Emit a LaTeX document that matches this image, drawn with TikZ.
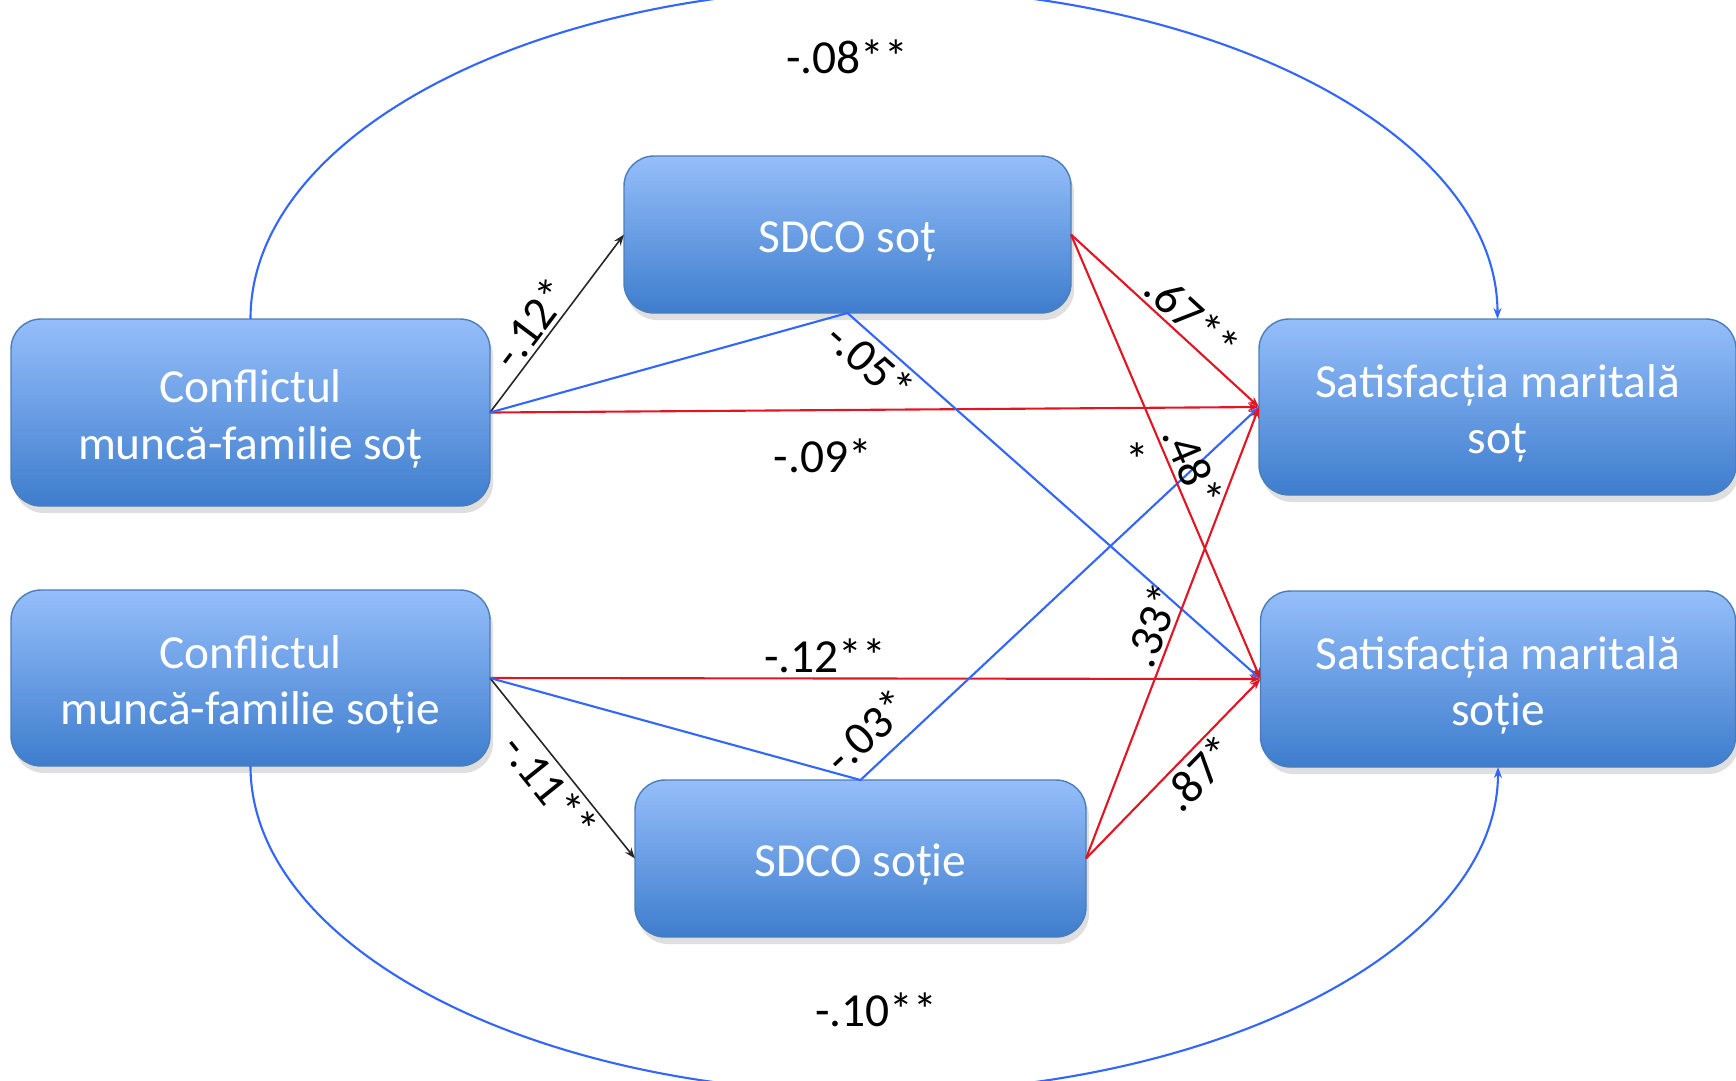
\documentclass[tikz,border=0pt]{standalone}
\usepackage{fontspec}
\setmainfont{Carlito}
\usetikzlibrary{arrows.meta,shadows,positioning}

\definecolor{boxtop}{RGB}{149,190,250}
\definecolor{boxbot}{RGB}{62,125,205}
\definecolor{boxline}{RGB}{74,126,187}
\definecolor{linkblue}{RGB}{51,102,255}
\definecolor{linkred}{RGB}{226,22,34}

\begin{document}
\begin{tikzpicture}[x=0.1mm,y=-0.1mm,
            box/.style={rectangle,rounded corners=3mm,draw=boxline,line width=0.4pt,top color=boxtop,bottom color=boxbot,text=white,align=center,font=\fontsize{13.5}{16}\selectfont,inner sep=0pt,outer sep=0pt,drop shadow={shadow xshift=0.3mm,shadow yshift=-0.7mm,opacity=0.25}},
            oneline/.style={box,text height=4.2mm,text depth=0.7mm},
            twoline/.style={box,text height=10mm,text depth=0.7mm},
            lbl/.style={font=\fontsize{13.5}{15}\selectfont,inner sep=1pt},
            bl/.style={draw=linkblue,line width=0.6pt},
            rd/.style={draw=linkred,line width=0.6pt},
            bk/.style={draw=black!85,line width=0.45pt},
            tip/.style={-{Stealth[length=1.1mm,width=0.8mm]}}]

            \useasboundingbox (0,0) rectangle (1736,1080);
            \clip (0,0) rectangle (1736,1080);

            \node[twoline,minimum width=47.9mm,minimum height=18.7mm] (cs) at (250.5,412.5) {Conflictul\\muncă-familie soț};
            \node[twoline,minimum width=47.9mm,minimum height=17.6mm] (cw) at (250.5,678) {Conflictul\\muncă-familie soție};
            \node[oneline,minimum width=44.7mm,minimum height=15.7mm] (sot) at (847.5,234.5) {SDCO soț};
            \node[oneline,minimum width=45.1mm,minimum height=15.7mm] (sotie) at (860.5,858.5) {SDCO soție};
            \node[twoline,minimum width=47.7mm,minimum height=17.6mm] (sats) at (1497.5,407) {Satisfacția maritală\\soț};
            \node[twoline,minimum width=47.5mm,minimum height=17.6mm] (satw) at (1498,679) {Satisfacția maritală\\soție};

            \coordinate (topmid) at (874,-12);
            \coordinate (botmid) at (874,1093);

            \draw[bl,tip] (cs.north) .. controls +(0,-183) and +(-344,0) .. (topmid) .. controls +(344,0) and +(0,-183) .. (sats.north);
            \draw[bl,tip] (cw.south) .. controls +(0,180) and +(-344,0) .. (botmid) .. controls +(344,0) and +(0,180) .. (satw.south);

            \draw[bk,tip] (cs.east) -- node[lbl,pos=0.43,sloped,above] {-.12*} (sot.west);
            \draw[bk,tip] (cw.east) -- node[lbl,pos=0.53,sloped,below] {-.11**} (sotie.west);

            \draw[rd,tip] (cs.east) -- (sats.west);
            \draw[rd,tip] (cw.east) -- (satw.west);
            \draw[bl,tip] (cs.east) -- (sot.south) -- node[lbl,pos=0.09,sloped,below] {-.05*} (satw.west);
            \draw[bl,tip] (cw.east) -- (sotie.north) -- node[lbl,pos=0.07,sloped,above=1mm] {-.03*} (sats.west);

            \draw[rd,tip] (sot.east) -- node[lbl,pos=0.57,sloped,above] {.67**} (sats.west);
            \draw[rd,tip] (sot.east) -- node[lbl,pos=0.54,sloped,above] {.48*} (satw.west);
            \draw[rd,tip] (sotie.east) -- node[lbl,pos=0.5,sloped,above] {.33*} (sats.west);
            \draw[rd,tip] (sotie.east) -- node[lbl,pos=0.56,sloped,below] {.87*} (satw.west);

            \node[lbl] (l08) at (847,57) {-.08**};
            \node[lbl] (l10) at (876,1010) {-.10**};
            \node[lbl] (l09) at (823,456) {-.09*};
            \node[lbl] (l12) at (825,656) {-.12**};
            \node[lbl] (lst) at (1137,460) {*};
\end{tikzpicture}
\end{document}
